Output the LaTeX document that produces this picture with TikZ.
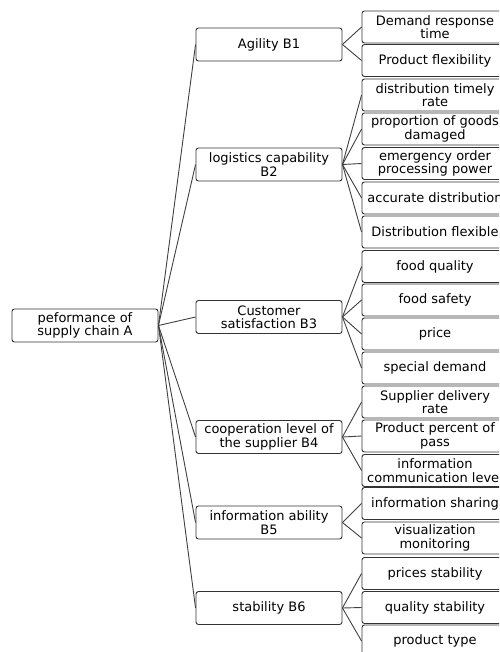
\documentclass[tikz,border=0pt]{standalone}
\usepackage{fontspec}
\setmainfont{DejaVu Sans}
\begin{document}
\begin{tikzpicture}[x=1pt,y=-1pt,
  box/.style={draw=black!80,rounded corners=2.5pt,line width=0.9pt,minimum width=146pt,minimum height=32pt,inner sep=1pt,align=center,font=\fontsize{13}{13.3}\selectfont},
  link/.style={draw=black!75,line width=0.9pt}]
\useasboundingbox (0,0) rectangle (499,652);
\clip (0,0) rectangle (499,652);

\node[box,minimum height=33pt] (a) at (85,325.5) {peformance of\\supply chain A};

\node[box,minimum height=33pt] (b1) at (269,44.5) {Agility B1};
\node[box,minimum height=33pt] (b2) at (269,164.5) {logistics capability\\B2};
\node[box,minimum height=33pt] (b3) at (269,317) {Customer\\satisfaction B3};
\node[box,minimum height=33pt] (b4) at (269,437) {cooperation level of\\the supplier B4};
\node[box,minimum height=33pt] (b5) at (269,522.5) {information ability\\B5};
\node[box,minimum height=33pt] (b6) at (269,608) {stability B6};

\node[box] (c1) at (435,27) {Demand response\\time};
\node[box] (c2) at (435,60.5) {Product flexibility};
\node[box] (c3) at (435,95) {distribution timely\\rate};
\node[box] (c4) at (435,129) {proportion of goods\\damaged};
\node[box] (c5) at (435,163.5) {emergency order\\processing power};
\node[box] (c6) at (435,198) {accurate distribution};
\node[box] (c7) at (435,232) {Distribution flexible};
\node[box] (c8) at (435,266.5) {food quality};
\node[box] (c9) at (435,300) {food safety};
\node[box] (c10) at (435,334) {price};
\node[box] (c11) at (435,368) {special demand};
\node[box] (c12) at (435,402) {Supplier delivery\\rate};
\node[box] (c13) at (435,436) {Product percent of\\pass};
\node[box] (c14) at (435,470.5) {information\\communication level};
\node[box] (c15) at (435,503.5) {information sharing};
\node[box] (c16) at (435,538) {visualization\\monitoring};
\node[box] (c17) at (435,573.5) {prices stability};
\node[box] (c18) at (435,607.5) {quality stability};
\node[box] (c19) at (435,641) {product type};

\path[link] (a.east) -- (b1.west);
\path[link] (a.east) -- (b2.west);
\path[link] (a.east) -- (b3.west);
\path[link] (a.east) -- (b4.west);
\path[link] (a.east) -- (b5.west);
\path[link] (a.east) -- (b6.west);

\path[link] (b1.east) -- (c1.west);
\path[link] (b1.east) -- (c2.west);
\path[link] (b2.east) -- (c3.west);
\path[link] (b2.east) -- (c4.west);
\path[link] (b2.east) -- (c5.west);
\path[link] (b2.east) -- (c6.west);
\path[link] (b2.east) -- (c7.west);
\path[link] (b3.east) -- (c8.west);
\path[link] (b3.east) -- (c9.west);
\path[link] (b3.east) -- (c10.west);
\path[link] (b3.east) -- (c11.west);
\path[link] (b4.east) -- (c12.west);
\path[link] (b4.east) -- (c13.west);
\path[link] (b4.east) -- (c14.west);
\path[link] (b5.east) -- (c15.west);
\path[link] (b5.east) -- (c16.west);
\path[link] (b6.east) -- (c17.west);
\path[link] (b6.east) -- (c18.west);
\path[link] (b6.east) -- (c19.west);
\end{tikzpicture}
\end{document}
